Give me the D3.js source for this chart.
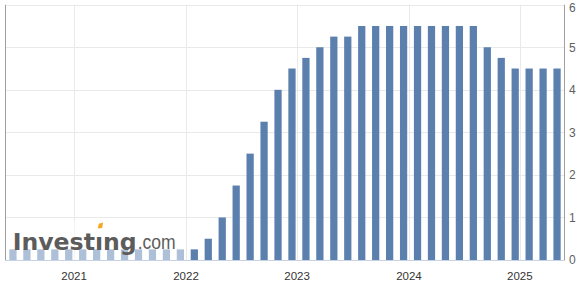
<!DOCTYPE html>
<html>
<head>
<meta charset="utf-8">
<script src="https://cdn.jsdelivr.net/npm/d3@7"></script>
<style>
  html, body { margin: 0; padding: 0; background: #fff; }
  svg { display: block; font-family: "Liberation Sans", Arial, sans-serif; }
</style>
</head>
<body>
<svg id="chart" width="585" height="290"></svg>
<script>
// Meeting dates (FOMC) and upper-bound rate values (%)
const dates = [
  "2020-06-10","2020-07-29","2020-09-16","2020-11-05","2020-12-16",
  "2021-01-27","2021-03-17","2021-04-28","2021-06-16","2021-07-28","2021-09-22","2021-11-03","2021-12-15",
  "2022-01-26","2022-03-16","2022-05-04","2022-06-15","2022-07-27","2022-09-21","2022-11-02","2022-12-14",
  "2023-02-01","2023-03-22","2023-05-03","2023-06-14","2023-07-26","2023-09-20","2023-11-01","2023-12-13",
  "2024-01-31","2024-03-20","2024-05-01","2024-06-12","2024-07-31","2024-09-18","2024-11-07","2024-12-18",
  "2025-01-29","2025-03-19","2025-05-07"
];
const values = [
  0.25,0.25,0.25,0.25,0.25,
  0.25,0.25,0.25,0.25,0.25,0.25,0.25,0.25,
  0.25,0.5,1.0,1.75,2.5,3.25,4.0,4.5,
  4.75,5.0,5.25,5.25,5.5,5.5,5.5,5.5,
  5.5,5.5,5.5,5.5,5.5,5.0,4.75,4.5,
  4.5,4.5,4.5
];
const yearTicks = [2021, 2022, 2023, 2024, 2025];
const yTicks = [0, 1, 2, 3, 4, 5, 6];

(function () {
const parse = d3.timeParse("%Y-%m-%d");
const data = dates.map((d, i) => ({ date: parse(d), value: values[i], i }));

const pL = 5, pR = 565, pT = 4.7, pB = 260;
const svg = d3.select("#chart");

// ordinal-style x scale: bars evenly spaced by index
const x = d3.scaleLinear().domain([-0.57, data.length - 1 + 0.57]).range([pL, pR]);
const y = d3.scaleLinear().domain([0, 6]).range([pB, pT]);
const step = x(1) - x(0);
const bw = step * 0.52;

// position of a date on the ordinal axis (interpolated between neighbouring points)
function dateIndex(dt) {
  for (let k = 0; k < data.length - 1; k++) {
    const a = data[k].date, b = data[k + 1].date;
    if (dt >= a && dt <= b) return k + (dt - a) / (b - a);
  }
  return null;
}
const yearPos = yearTicks.map(yr => ({ yr, x: x(dateIndex(new Date(yr, 0, 1))) }));

// gridlines
const grid = svg.append("g");
grid.selectAll("line.h").data(yTicks.filter(t => t > 0)).join("line")
  .attr("x1", pL).attr("x2", pR)
  .attr("y1", d => Math.round(y(d)) + 0.5).attr("y2", d => Math.round(y(d)) + 0.5)
  .attr("stroke", "#e9e9e9").attr("stroke-width", 1);
grid.selectAll("line.v").data(yearPos).join("line")
  .attr("x1", d => Math.round(d.x) + 0.5).attr("x2", d => Math.round(d.x) + 0.5)
  .attr("y1", pT).attr("y2", pB)
  .attr("stroke", "#e9e9e9").attr("stroke-width", 1);

// bars
svg.append("g").selectAll("rect").data(data).join("rect")
  .attr("x", d => x(d.i) - bw / 2)
  .attr("width", bw)
  .attr("y", d => y(d.value))
  .attr("height", d => y(0) - y(d.value))
  .attr("fill", "#5b80ae");

// watermark: translucent white panel + logo text
svg.append("rect").attr("x", pL + 1).attr("y", 221).attr("width", 179).attr("height", pB - 221)
  .attr("fill", "#fff").attr("opacity", 0.5);
const logo = svg.append("g");
logo.append("text").attr("x", 12.7).attr("y", 249.7)
  .attr("font-family", "DejaVu Sans, sans-serif")
  .attr("font-size", 23).attr("font-weight", "bold").attr("fill", "#5c5c5c")
  .attr("textLength", 124).attr("lengthAdjust", "spacingAndGlyphs")
  .text("Investıng");
logo.append("polygon")
  .attr("points", "98.8,223.8 103,222.6 102.2,228 97.8,228.6")
  .attr("fill", "#f5a623");
logo.append("text").attr("x", 137.7).attr("y", 249.3)
  .attr("font-family", "Liberation Sans, Arial, sans-serif")
  .attr("font-size", 20).attr("fill", "#5c5c5c")
  .attr("textLength", 38).attr("lengthAdjust", "spacingAndGlyphs")
  .text(".com");

// axis lines
svg.append("line").attr("x1", pL + 0.5).attr("x2", pL + 0.5).attr("y1", pT).attr("y2", pB)
  .attr("stroke", "#a0a0a0");
svg.append("line").attr("x1", pR - 0.5).attr("x2", pR - 0.5).attr("y1", pT).attr("y2", pB)
  .attr("stroke", "#a0a0a0");
svg.append("line").attr("x1", pL).attr("x2", pR).attr("y1", pB + 0.5).attr("y2", pB + 0.5)
  .attr("stroke", "#c8d3e6");

// right y axis labels
const yAxis = d3.axisRight(y).tickValues(yTicks).tickSize(0).tickPadding(4).tickFormat(d3.format("d"));
const gy = svg.append("g").attr("transform", `translate(${pR},0)`).call(yAxis);
gy.select(".domain").remove();
gy.selectAll("text").attr("font-size", 12).attr("fill", "#606060")
  .attr("font-family", "Liberation Sans, Arial, sans-serif");
gy.selectAll(".tick").filter(d => d === 6).select("text").attr("dy", "0.55em");

// bottom year labels
const xYear = d3.scaleOrdinal().domain(yearPos.map(d => d.yr)).range(yearPos.map(d => d.x));
svg.append("g").selectAll("text").data(yearTicks).join("text")
  .attr("x", d => xYear(d)).attr("y", 280)
  .attr("text-anchor", "middle").attr("font-size", 11.5).attr("fill", "#333")
  .text(d => d);
})();
</script>
</body>
</html>
